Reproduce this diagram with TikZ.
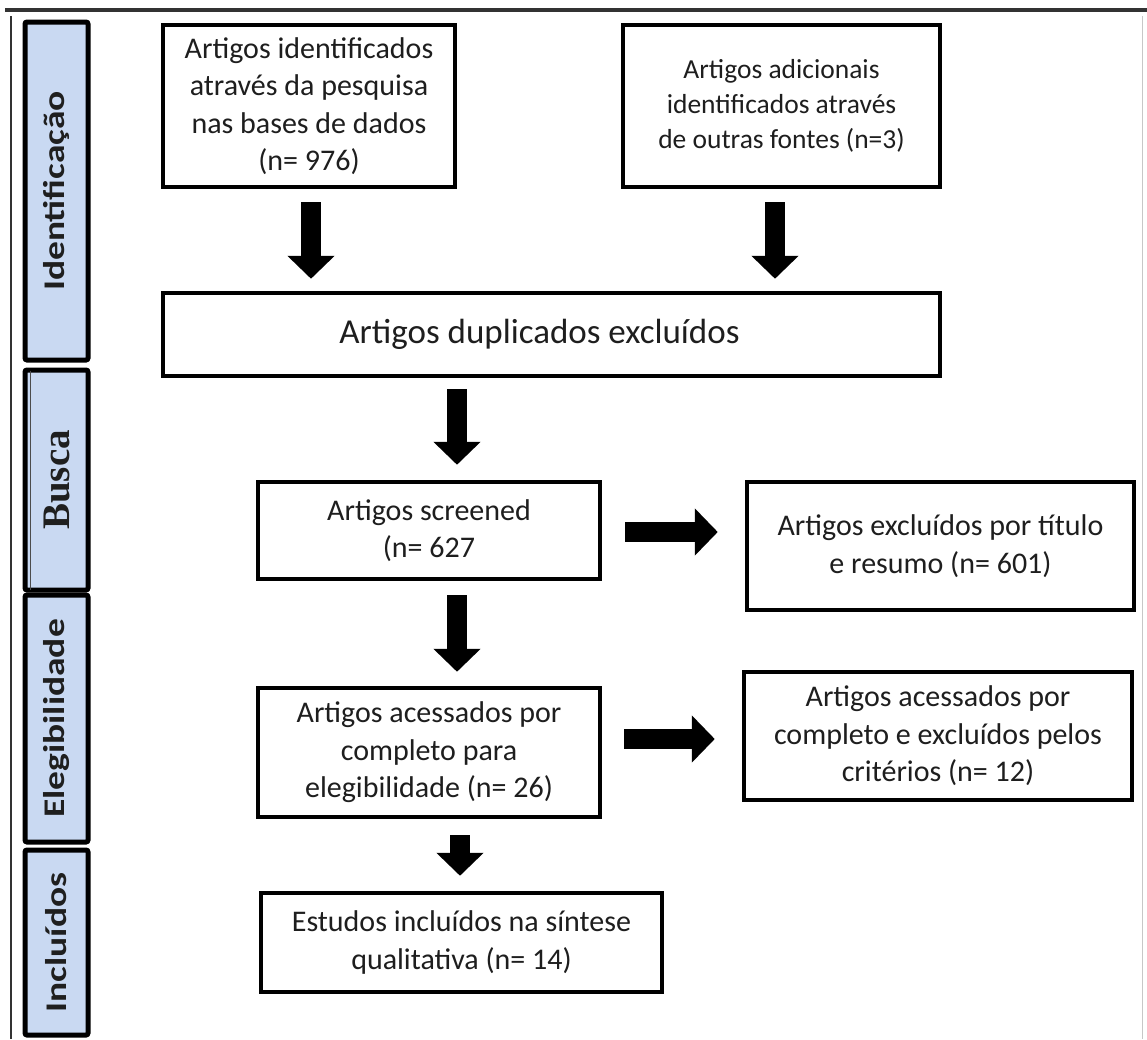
\documentclass[tikz,border=0pt]{standalone}
\usepackage{fontspec}
\setmainfont{Carlito}
\newfontfamily\sidesans[FakeStretch=1.25]{Carlito}
\newfontfamily\sideserif{Liberation Serif}
\usetikzlibrary{arrows.meta,calc}
\definecolor{sidefill}{RGB}{201,217,242}
\definecolor{txt}{RGB}{30,30,30}
\begin{document}
\begin{tikzpicture}[x=1pt,y=-1pt,
  box/.style={draw=black, line width=4.5pt, fill=white, align=center, inner sep=0pt, text=txt,
    font=\fontsize{30}{37.5}\selectfont},
  side/.style={draw=black, line width=5pt, fill=sidefill, rounded corners=2pt,
    minimum width=63pt, inner sep=0pt},
  sidelabel/.style={rotate=90, text=black!88, inner sep=0pt,
    font=\sidesans\bfseries\fontsize{30}{36}\selectfont},
  serlabel/.style={rotate=90, text=black!88, inner sep=0pt,
    font=\sideserif\bfseries\fontsize{39}{44}\selectfont},
  blk/.style={line width=20pt, -{Triangle[width=46pt,length=23pt]}}
]
\useasboundingbox (0,0) rectangle (1147,1039);
\fill[white] (0,0) rectangle (1147,1039);

% frame lines
\coordinate (tl) at (5,10);
\coordinate (tr) at (1147,10);
\coordinate (lt) at (11,16);
\coordinate (lb) at (11,1039);
\coordinate (rt) at (1142,16);
\coordinate (rb) at (1142,1039);
\draw[line width=4pt, black!80] (tl) -- (tr);
\draw[line width=2pt, black!80] (lt) -- (lb);
\draw[line width=1pt, black!22] (rt) -- (rb);

% side labels
\node[side, minimum height=338pt, label={[sidelabel]center:Identificação}] (s1) at (56.5,191) {};
\node[side, minimum height=220pt, label={[serlabel]center:Busca}] (s2) at (56.5,480) {};
\draw[line width=1pt, black!70] ([xshift=8pt,yshift=-3pt]s2.north west) -- ([xshift=8pt,yshift=3pt]s2.south west);
\node[side, minimum height=247pt, label={[sidelabel]center:Elegibilidade}] (s3) at (56.5,718.5) {};
\node[side, minimum height=185pt, label={[sidelabel]center:Incluídos}] (s4) at (56.5,942.5) {};

% boxes
\node[box, minimum width=292pt, minimum height=162pt] (b1) at (309,106)
  {Artigos identificados\\através da pesquisa\\nas bases de dados\\(n= 976)};
\node[box, minimum width=317pt, minimum height=162pt, font=\fontsize{27.5}{35}\selectfont] (b2) at (781.5,106)
  {Artigos adicionais\\identificados através\\de outras fontes (n=3)};
\node[box, minimum width=777pt, minimum height=83pt, font=\fontsize{35}{40}\selectfont] (b3) at (551.5,334.5)
  {Artigos duplicados excluídos\hspace*{24pt}};
\node[box, minimum width=342pt, minimum height=97pt] (b4) at (429,530.5)
  {Artigos screened\\(n= 627};
\node[box, minimum width=387pt, minimum height=128pt] (b5) at (940.5,546)
  {Artigos excluídos por título\\e resumo (n= 601)};
\node[box, minimum width=342pt, minimum height=129pt] (b6) at (429,752.5)
  {Artigos acessados por\\completo para\\elegibilidade (n= 26)};
\node[box, minimum width=388pt, minimum height=128pt] (b7) at (938,736)
  {Artigos acessados por\\completo e excluídos pelos\\critérios (n= 12)};
\node[box, minimum width=401pt, minimum height=99pt] (b8) at (461.5,942.5)
  {Estudos incluídos na síntese\\qualitativa (n= 14)};

% arrows
\coordinate (xA1) at (311,0);
\coordinate (xA2) at (775,0);
\coordinate (xA3) at (457,0);
\coordinate (xA5) at (460,0);
\coordinate (yR1) at (0,532);
\coordinate (yR2) at (0,739);
\draw[blk] ($(b1.south -| xA1)+(0,13)$) -- ($(b3.north -| xA1)+(0,-12)$);
\draw[blk] ($(b2.south -| xA2)+(0,13)$) -- ($(b3.north -| xA2)+(0,-12)$);
\draw[blk] ($(b3.south -| xA3)+(0,11)$) -- ($(b4.north -| xA3)+(0,-15)$);
\draw[blk] ($(b4.south -| xA3)+(0,14)$) -- ($(b6.north -| xA3)+(0,-14)$);
\draw[blk] ($(b6.south -| xA5)+(0,16)$) -- ($(b8.north -| xA5)+(0,-15)$);
\draw[blk] ($(b4.east |- yR1)+(23,0)$) -- ($(b5.west |- yR1)+(-27,0)$);
\draw[blk] ($(b6.east |- yR2)+(22,0)$) -- ($(b7.west |- yR2)+(-27,0)$);
\end{tikzpicture}
\end{document}
